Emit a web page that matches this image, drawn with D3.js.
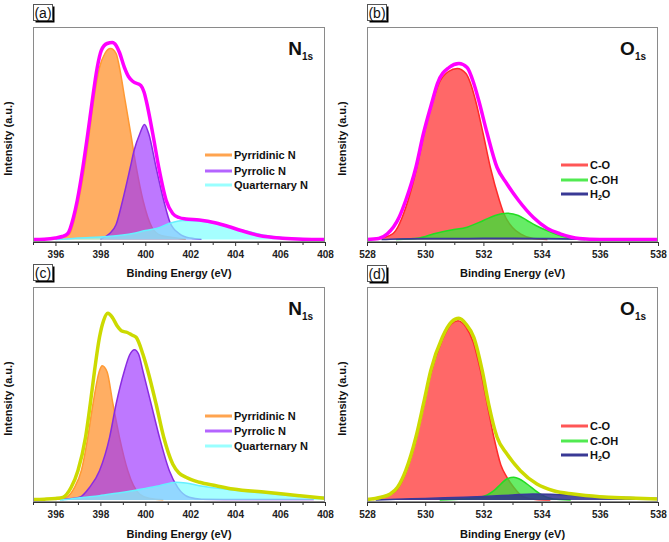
<!DOCTYPE html>
<html><head><meta charset="utf-8">
<script src="https://cdn.jsdelivr.net/npm/d3@7"></script>
<style>
html,body{margin:0;padding:0;background:#fff;}
svg{display:block;font-family:"Liberation Sans",Arial,sans-serif;}
</style></head>
<body>
<svg id="chart" width="669" height="542"></svg>
<script>
// ---------- DATA (binding energy eV, intensity a.u.) ----------
const nTicks = [396, 398, 400, 402, 404, 406, 408];
const oTicks = [528, 530, 532, 534, 536, 538];
const nLegend = ["Pyrridinic N", "Pyrrolic N", "Quarternary N"];
const oLegend = ["C-O", "C-OH", "H2O"];

// panel (a) N1s
const envA = [[395,0],[395.5,0.3],[396,1.5],[396.3,3],[396.55,6],[396.8,22],[396.97,39],[397.22,72],[397.44,106],[397.64,139],[397.86,172],[398.04,189],[398.3,196],[398.53,197],[398.7,194],[398.85,187],[399.07,172],[399.25,163],[399.45,158],[399.8,154],[399.95,147],[400.04,139],[400.33,106],[400.6,72],[400.93,39],[401.22,26],[401.5,22],[401.8,20.5],[402.4,19.5],[403.15,16.5],[403.7,13],[404.26,9],[405.07,4],[406.1,1.3],[407,0.3],[408,0]];
const pyridinicA = [[396,0.5],[396.3,1.5],[396.63,5.7],[397.03,39],[397.3,72],[397.5,105],[397.7,139],[397.96,172],[398.2,186],[398.45,191],[398.7,186],[398.85,172],[399.1,139],[399.35,106],[399.6,72],[399.9,39],[400.3,12],[400.7,4],[401.2,2],[401.8,0.3]];
const pyrrolicA = [[398,0.5],[398.4,5.7],[398.7,15],[398.99,39],[399.33,72],[399.5,89],[399.76,106],[399.96,115],[400.15,106],[400.48,72],[400.82,39],[401.1,17],[401.52,5.7],[402,1.5],[402.5,0.3]];
const quaternaryA = [[396,0],[396.5,0.5],[397,1.5],[398,2.5],[399,4.5],[399.44,6],[400,9],[400.5,11],[401.2,17],[401.67,19],[402.4,18.5],[403.15,16],[403.9,11.3],[404.6,8],[405.37,4],[406.1,2],[406.85,1],[408,0.3]];

// panel (b) O1s
const envB = [[528,0],[528.4,1],[528.7,5.7],[529.1,22],[529.33,39],[529.68,72],[529.94,106],[530.25,139],[530.42,156],[530.82,172],[531.16,176],[531.44,172],[531.67,156],[531.84,139],[532.13,106],[532.47,72],[532.8,56],[533.21,39],[533.72,22],[534.2,11],[534.64,5.7],[535.3,1],[536,0],[538,0]];
const coB = [[528.3,0.3],[528.88,5.7],[529.41,39],[529.71,72],[529.96,106],[530.27,139],[530.47,156],[530.8,168],[531.1,171],[531.4,166],[531.56,156],[531.73,139],[531.99,106],[532.24,72],[532.55,39],[532.7,26],[533.0,12],[533.27,5.7],[533.72,1],[534.2,0]];
const cohB = [[529,0],[529.8,1.5],[530.3,5.7],[530.9,9.5],[531.44,12.3],[532,19],[532.4,24],[532.81,26.3],[533.2,24],[533.5,19],[533.8,14],[534.18,9],[534.86,2.3],[535.3,0.3],[536,0]];
const h2oB = [[528.5,0],[529,0.6],[530,1],[531,1],[532,1.2],[533,1.2],[534,1],[535,0.6],[535.5,0]];

// panel (c) N1s
const envC = [[395,0.5],[395.5,0.8],[396,1.5],[396.33,2.7],[396.7,12.7],[397.0,29.3],[397.34,62.7],[397.55,96],[397.74,129.3],[397.96,162.7],[398.14,179.3],[398.33,186.7],[398.55,182],[398.75,174],[398.95,169],[399.2,167.5],[399.4,165],[399.59,162.7],[399.89,146],[400.11,129.3],[400.48,96],[400.82,62.7],[401.22,36],[401.5,27],[401.81,22.7],[402.41,17.7],[403.15,14.3],[403.9,11],[405.37,7.7],[406.85,4.3],[408,1.7]];
const pyridinicC = [[396,0.5],[396.5,3],[396.85,12.7],[397.15,29.3],[397.44,62.7],[397.67,96],[397.96,129.3],[398.08,134.3],[398.3,128],[398.56,96],[398.85,62.7],[399.22,29.3],[399.74,6],[400.2,1.5],[400.8,0.3]];
const pyrrolicC = [[396.3,0.5],[397.07,2.7],[397.52,12.7],[397.96,29.3],[398.41,62.7],[398.7,96],[399.07,129.3],[399.3,145],[399.52,150.3],[399.7,146],[399.89,129.3],[400.26,96],[400.63,62.7],[401.07,29.3],[401.44,12.7],[401.96,2.7],[402.5,0.8],[403.5,0.6],[407.5,0.5]];
const quaternaryC = [[396.2,0],[396.48,0.5],[397.2,2.5],[397.96,4.3],[398.7,6.8],[399.44,9.3],[400,11.5],[400.63,14.3],[401.37,17.7],[401.8,17],[402.41,14.3],[403.9,10],[405.37,6.7],[406.85,3.7],[408,2.7]];

// panel (d) O1s
const envD = [[528,0.5],[528.48,2.7],[528.8,6],[529.05,12.7],[529.33,29.3],[529.68,62.7],[529.94,96],[530.19,129.3],[530.59,162.7],[530.9,178],[531.16,181.7],[531.4,176],[531.67,162.7],[531.96,129.3],[532.18,96],[532.47,62.7],[532.81,46],[533.27,29.3],[533.84,16],[534.41,9.3],[535.09,6],[536,3.3],[537,2],[538,1]];
const coD = [[528.2,0.5],[528.7,4],[529.05,11],[529.33,27],[529.68,60],[529.94,93],[530.19,126],[530.59,160],[530.9,176],[531.12,179.3],[531.4,173],[531.65,158],[531.9,129.3],[532.13,96],[532.36,62.7],[532.6,35],[532.81,22.7],[533.04,12.7],[533.38,3],[533.8,0.5],[534.3,0]];
const cohD = [[530.5,0],[531.3,1],[531.9,2.7],[532.36,9.3],[532.6,16],[532.8,21],[533.04,22.7],[533.3,20],[533.5,16],[533.95,6],[534.4,1],[535,0]];
const h2oD = [[528.3,0],[529,0.8],[530,1.5],[531,2.5],[532,3.5],[533,5],[533.7,6],[534.3,5.8],[535,4.8],[536,3.5],[537,2.5],[538,1.5]];

// ---------- STYLE ----------
const nStyles = [
  {fill:"#FF9A3C", op:0.8, stroke:"#FF9933"},
  {fill:"#9B30FF", op:0.65, stroke:"#8A2BE2"},
  {fill:"#7FFFFF", op:0.7, stroke:"#66F0FF"}
];
const oStyles = [
  {fill:"#FF4D4D", op:0.85, stroke:"#FF2A2A"},
  {fill:"#33E633", op:0.75, stroke:"#22DD22"},
  {fill:"#2E2E8F", op:0.85, stroke:"#3A3A99"}
];

const panels = [
  {label:"(a)", left:33, right:325, top:27, bottom:242, base:239.5, xDomain:[395,408], ticks:nTicks,
   el:"N", env:envA, envColor:"#FF00FF", comps:[pyridinicA,pyrrolicA,quaternaryA], names:nLegend, styles:nStyles,
   legX:205, legY:[155,171,185], labBox:[33,4], titleY:273},
  {label:"(b)", left:367, right:658, top:27, bottom:242, base:239.5, xDomain:[528,538], ticks:oTicks,
   el:"O", env:envB, envColor:"#FF00FF", comps:[coB,cohB,h2oB], names:oLegend, styles:oStyles,
   legX:561, legY:[165,180,194], labBox:[367,4], titleY:273},
  {label:"(c)", left:33, right:325, top:287, bottom:502, base:500, xDomain:[395,408], ticks:nTicks,
   el:"N", env:envC, envColor:"#CCDA00", comps:[pyridinicC,pyrrolicC,quaternaryC], names:nLegend, styles:nStyles,
   legX:205, legY:[416,431,446], labBox:[33,264], titleY:534},
  {label:"(d)", left:367, right:658, top:287, bottom:502, base:500, xDomain:[528,538], ticks:oTicks,
   el:"O", env:envD, envColor:"#CCDA00", comps:[coD,cohD,h2oD], names:oLegend, styles:oStyles,
   legX:561, legY:[426,441,455], labBox:[367,265], titleY:534}
];

const svg = d3.select("#chart");
svg.append("rect").attr("width",669).attr("height",542).attr("fill","#fff");

panels.forEach((p, i) => {
  const x = d3.scaleLinear().domain(p.xDomain).range([p.left, p.right]);
  const y = d3.scaleLinear().domain([0, 100]).range([p.base, p.base - 100]);
  const g = svg.append("g");
  const clipId = "clip" + i;
  svg.append("clipPath").attr("id", clipId).append("rect")
    .attr("x", p.left).attr("y", p.top).attr("width", p.right - p.left).attr("height", p.bottom - p.top);
  const plot = g.append("g").attr("clip-path", `url(#${clipId})`);

  const area = d3.area().x(d => x(d[0])).y0(p.base).y1(d => y(d[1])).curve(d3.curveMonotoneX);
  const line = d3.line().x(d => x(d[0])).y(d => y(d[1])).curve(d3.curveMonotoneX);

  p.comps.forEach((c, k) => {
    const s = p.styles[k];
    plot.append("path").datum(c).attr("d", area).attr("fill", s.fill).attr("fill-opacity", s.op);
    plot.append("path").datum(c).attr("d", line).attr("fill", "none").attr("stroke", s.stroke).attr("stroke-width", 1.5);
  });
  plot.append("path").datum(p.env).attr("d", line).attr("fill", "none")
    .attr("stroke", p.envColor).attr("stroke-width", 3.5).attr("stroke-linejoin","round");

  // frame
  g.append("rect").attr("x", p.left + 0.5).attr("y", p.top + 0.5)
    .attr("width", p.right - p.left - 1).attr("height", p.bottom - p.top - 1)
    .attr("fill", "none").attr("stroke", "#8a8a8a").attr("stroke-width", 1);

  // x axis
  const minor = d3.range(p.xDomain[0], p.xDomain[1] + 0.001, 1).filter(v => !p.ticks.includes(v));
  const axMinor = g.append("g").attr("transform", `translate(0,${p.bottom})`)
    .call(d3.axisBottom(x).tickValues(minor).tickSize(3).tickFormat(""));
  axMinor.select(".domain").remove();
  axMinor.selectAll("line").attr("stroke", "#333");
  const ax = g.append("g").attr("transform", `translate(0,${p.bottom})`)
    .call(d3.axisBottom(x).tickValues(p.ticks).tickSize(4).tickSizeOuter(0).tickFormat(d3.format("d")));
  ax.select(".domain").attr("stroke", "#333").attr("stroke-width", 1.2);
  ax.selectAll("line").attr("stroke", "#333");
  ax.selectAll("text").attr("font-size", 10).attr("font-weight", "bold").attr("fill", "#222")
    .attr("font-family", '"Liberation Sans", Arial, sans-serif').attr("dy", "0.9em");

  // axis title
  g.append("text").attr("x", (p.left + p.right) / 2).attr("y", p.titleY)
    .attr("text-anchor", "middle").attr("dominant-baseline", "central")
    .attr("font-size", 11).attr("font-weight", "bold").attr("fill", "#111")
    .text("Binding Energy (eV)");
  g.append("text")
    .attr("transform", `translate(${p.left - 25},${(p.top + p.bottom) / 2 + 4}) rotate(-90)`)
    .attr("text-anchor", "middle").attr("dominant-baseline", "central")
    .attr("font-size", 11).attr("font-weight", "bold").attr("fill", "#111")
    .text("Intensity (a.u.)");

  // element title with subscript
  const t = g.append("text").attr("x", p.right - 12).attr("y", p.top + 28)
    .attr("text-anchor", "end").attr("font-weight", "bold").attr("fill", "#111");
  t.append("tspan").attr("font-size", 19).text(p.el);
  t.append("tspan").attr("font-size", 10).attr("dy", 5).text("1s");

  // legend
  p.names.forEach((n, k) => {
    const s = p.styles[k];
    const ly = p.legY[k];
    g.append("line").attr("x1", p.legX).attr("x2", p.legX + 27).attr("y1", ly).attr("y2", ly)
      .attr("stroke", s.fill).attr("stroke-opacity", Math.min(1, s.op + 0.1)).attr("stroke-width", 3);
    const tt = g.append("text").attr("x", p.legX + 29).attr("y", ly).attr("dominant-baseline", "central")
      .attr("font-size", 11).attr("font-weight", "bold").attr("fill", "#111");
    if (n === "H2O") {
      tt.append("tspan").text("H");
      tt.append("tspan").attr("font-size", 7).attr("dy", 3).text("2");
      tt.append("tspan").attr("dy", -3).text("O");
    } else tt.text(n);
  });

  // panel label box
  const [bx, by] = p.labBox;
  g.append("rect").attr("x", bx + 2.5).attr("y", by + 2.5).attr("width", 19).attr("height", 16).attr("fill", "#000");
  g.append("rect").attr("x", bx + 0.5).attr("y", by + 0.5).attr("width", 19).attr("height", 16)
    .attr("fill", "#fff").attr("stroke", "#555").attr("stroke-width", 1);
  g.append("text").attr("x", bx + 10).attr("y", by + 9).attr("text-anchor", "middle")
    .attr("dominant-baseline", "central").attr("font-size", 14).attr("fill", "#111").text(p.label);
});
</script>
</body></html>
